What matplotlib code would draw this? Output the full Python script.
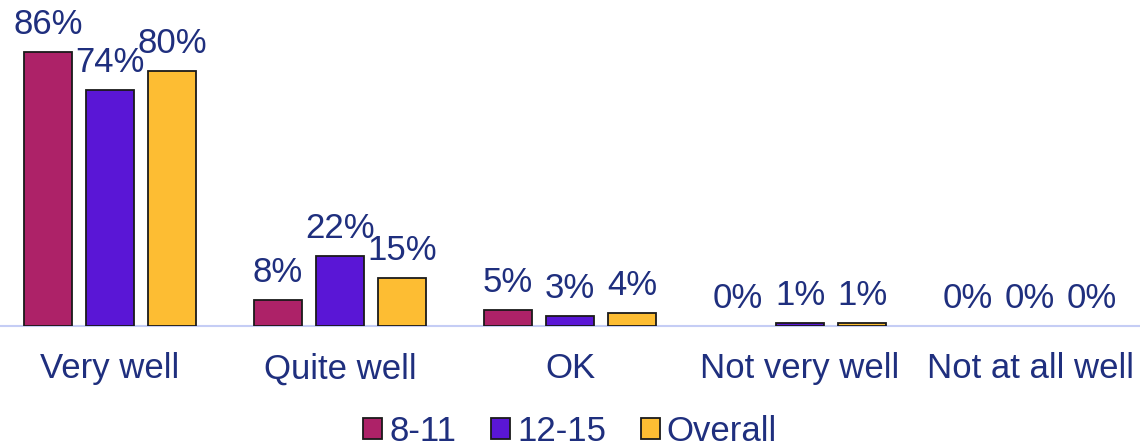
import numpy as np
import matplotlib
matplotlib.use("Agg")
import matplotlib.pyplot as plt
from matplotlib.patches import Patch

# donnees
categories = ["Very well", "Quite well", "OK", "Not very well", "Not at all well"]
series_names = ["8-11", "12-15", "Overall"]
age_8_11 = [86, 8, 5, 0, 0]
age_12_15 = [74, 22, 3, 1, 0]
overall = [80, 15, 4, 1, 0]

colors = ["#AD2268", "#5A16D6", "#FDBD33"]
text_color = "#1F2F7E"

plt.rcParams['font.family'] = ['Liberation Sans', 'DejaVu Sans']

fig = plt.figure(figsize=(11.4, 4.46), dpi=100)
ax = fig.add_axes([0.0, 120 / 446, 1.0, 319 / 446])

x = np.arange(len(categories))
width = 0.209
step = 0.27

for i, (vals, col) in enumerate(zip([age_8_11, age_12_15, overall], colors)):
    pos = x + (i - 1) * step
    # pas de bordure pour les barres a 0
    lw = [1.3 if v > 0 else 0 for v in vals]
    ax.bar(pos, vals, width=width, color=col, edgecolor="#1a1a1a", linewidth=lw, zorder=3)
    for px, v in zip(pos, vals):
        ax.annotate(f"{v}%", (px, v), xytext=(0, 8), textcoords="offset points",
                    ha="center", va="bottom", fontsize=25, color=text_color)

ax.set_xlim(-0.478, 4.478)
ax.set_ylim(0, 100)
ax.set_xticks(x)
ax.set_xticklabels(categories, fontsize=25, color=text_color)
ax.tick_params(axis="x", length=0, pad=19)
ax.set_yticks([])
for side in ["left", "right", "top"]:
    ax.spines[side].set_visible(False)
ax.spines["bottom"].set_color("#C5CDF5")
ax.spines["bottom"].set_linewidth(1.5)

handles = [Patch(facecolor=c, edgecolor="#1a1a1a", linewidth=1.3) for c in colors]
leg = fig.legend(handles, series_names, loc="lower center", bbox_to_anchor=(0.5, -0.075),
                 ncol=3, frameon=False, fontsize=25, handlelength=0.55, handleheight=0.55,
                 handletextpad=0.2, columnspacing=1.0)
for t in leg.get_texts():
    t.set_color(text_color)

fig.savefig("out.png", dpi=100)
